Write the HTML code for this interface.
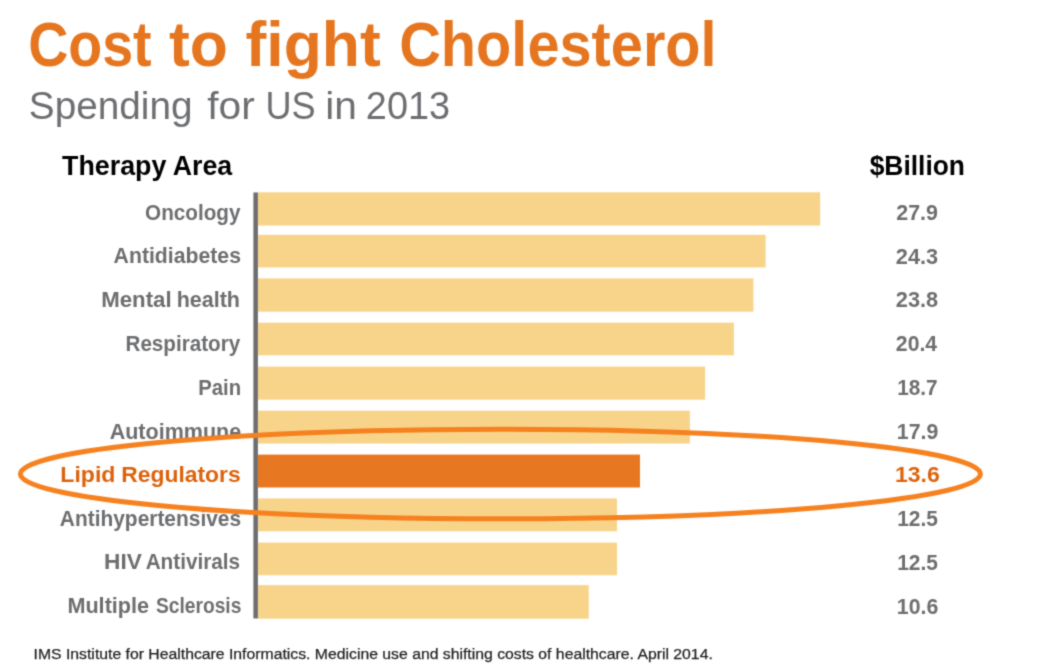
<!DOCTYPE html>
<html>
<head>
<meta charset="utf-8">
<style>
html,body{margin:0;padding:0;background:#fff;width:1053px;height:672px;overflow:hidden;}
svg{display:block;}

text{font-family:"Liberation Sans",sans-serif;}
</style>
</head>
<body>
<svg width="1053" height="672" viewBox="0 0 1053 672">
<defs><filter id="soft" x="0" y="0" width="1053" height="672" filterUnits="userSpaceOnUse" color-interpolation-filters="sRGB"><feConvolveMatrix order="3" kernelMatrix="0.02768 0.11101 0.02768 0.11101 0.44521 0.11101 0.02768 0.11101 0.02768" edgeMode="duplicate"/></filter></defs>
<g filter="url(#soft)">
<rect x="0" y="0" width="1053" height="672" fill="#fff"/>

<g fill="#F8D48B">
<rect x="257.9" y="192.3" width="562.30" height="33.25"/>
<rect x="257.9" y="234.8" width="507.70" height="32.65"/>
<rect x="257.9" y="278.4" width="495.50" height="33.30"/>
<rect x="257.9" y="322.7" width="476.00" height="32.60"/>
<rect x="257.9" y="366.6" width="447.20" height="33.10"/>
<rect x="257.9" y="410.7" width="432.00" height="32.80"/>
<rect x="257.9" y="498.4" width="359.10" height="32.90"/>
<rect x="257.9" y="542.6" width="359.10" height="32.60"/>
<rect x="257.9" y="585.1" width="330.80" height="33.60"/>
</g>
<rect x="257.9" y="454.6" width="382.10" height="32.90" fill="#E77821"/>
<rect x="253.4" y="192.45" width="4.5" height="426" fill="#6E6E72"/>
<text id="title_0" x="28.17" y="66" font-size="63" fill="#E5761F" font-weight="bold" textLength="123.43" lengthAdjust="spacingAndGlyphs">Cost</text>
<text id="title_1" x="169.06" y="66" font-size="63" fill="#E5761F" font-weight="bold" textLength="58.94" lengthAdjust="spacingAndGlyphs">to</text>
<text id="title_2" x="245.50" y="66" font-size="63" fill="#E5761F" font-weight="bold" textLength="135.24" lengthAdjust="spacingAndGlyphs">fight</text>
<text id="title_3" x="399.21" y="66" font-size="63" fill="#E5761F" font-weight="bold" textLength="317.41" lengthAdjust="spacingAndGlyphs">Cholesterol</text>
<text id="sub_0" x="28.81" y="118.6" font-size="39" fill="#6D6E71" textLength="163.69" lengthAdjust="spacingAndGlyphs">Spending</text>
<text id="sub_1" x="207.31" y="118.6" font-size="39" fill="#6D6E71" textLength="47.50" lengthAdjust="spacingAndGlyphs">for</text>
<text id="sub_2" x="265.51" y="118.6" font-size="39" fill="#6D6E71" textLength="50.15" lengthAdjust="spacingAndGlyphs">US</text>
<text id="sub_3" x="325.15" y="118.6" font-size="39" fill="#6D6E71" textLength="31.68" lengthAdjust="spacingAndGlyphs">in</text>
<text id="sub_4" x="365.86" y="118.6" font-size="39" fill="#6D6E71" textLength="84.26" lengthAdjust="spacingAndGlyphs">2013</text>
<text id="h1_0" x="62.00" y="175.4" font-size="27" fill="#000000" font-weight="bold" textLength="104.44" lengthAdjust="spacingAndGlyphs">Therapy</text>
<text id="h1_1" x="172.81" y="175.4" font-size="27" fill="#000000" font-weight="bold" textLength="59.44" lengthAdjust="spacingAndGlyphs">Area</text>
<text id="h2" x="869.63" y="175.1" font-size="27" fill="#000000" font-weight="bold" textLength="95.36" lengthAdjust="spacingAndGlyphs">$Billion</text>
<text id="L0" x="145.06" y="219.5" font-size="22" fill="#6D6E70" font-weight="bold" textLength="95.37" lengthAdjust="spacingAndGlyphs">Oncology</text>
<text id="L1" x="113.62" y="263.4" font-size="22" fill="#6D6E70" font-weight="bold" textLength="127.36" lengthAdjust="spacingAndGlyphs">Antidiabetes</text>
<text id="L2_0" x="101.19" y="307.0" font-size="22" fill="#6D6E70" font-weight="bold" textLength="70.42" lengthAdjust="spacingAndGlyphs">Mental</text>
<text id="L2_1" x="176.64" y="307.0" font-size="22" fill="#6D6E70" font-weight="bold" textLength="63.33" lengthAdjust="spacingAndGlyphs">health</text>
<text id="L3" x="125.51" y="351.0" font-size="22" fill="#6D6E70" font-weight="bold" textLength="114.64" lengthAdjust="spacingAndGlyphs">Respiratory</text>
<text id="L4" x="198.27" y="394.9" font-size="22" fill="#6D6E70" font-weight="bold" textLength="42.88" lengthAdjust="spacingAndGlyphs">Pain</text>
<text id="L5" x="109.63" y="438.5" font-size="22" fill="#6D6E70" font-weight="bold" textLength="131.60" lengthAdjust="spacingAndGlyphs">Autoimmune</text>
<text id="L6_0" x="60.31" y="481.6" font-size="22" fill="#DD620B" font-weight="bold" textLength="55.12" lengthAdjust="spacingAndGlyphs">Lipid</text>
<text id="L6_1" x="121.35" y="481.6" font-size="22" fill="#DD620B" font-weight="bold" textLength="119.30" lengthAdjust="spacingAndGlyphs">Regulators</text>
<text id="L7" x="59.83" y="525.6" font-size="22" fill="#6D6E70" font-weight="bold" textLength="181.25" lengthAdjust="spacingAndGlyphs">Antihypertensives</text>
<text id="L8_0" x="104.03" y="569.3" font-size="22" fill="#6D6E70" font-weight="bold" textLength="37.81" lengthAdjust="spacingAndGlyphs">HIV</text>
<text id="L8_1" x="145.64" y="569.3" font-size="22" fill="#6D6E70" font-weight="bold" textLength="94.49" lengthAdjust="spacingAndGlyphs">Antivirals</text>
<text id="L9_0" x="67.39" y="613.2" font-size="22" fill="#6D6E70" font-weight="bold" textLength="81.74" lengthAdjust="spacingAndGlyphs">Multiple</text>
<text id="L9_1" x="156.01" y="613.2" font-size="22" fill="#6D6E70" font-weight="bold" textLength="85.34" lengthAdjust="spacingAndGlyphs">Sclerosis</text>
<text id="V0" x="896.22" y="219.7" font-size="22" fill="#6D6E70" font-weight="bold" textLength="41.68" lengthAdjust="spacingAndGlyphs">27.9</text>
<text id="V1" x="895.81" y="263.5" font-size="22" fill="#6D6E70" font-weight="bold" textLength="42.31" lengthAdjust="spacingAndGlyphs">24.3</text>
<text id="V2" x="895.81" y="307.3" font-size="22" fill="#6D6E70" font-weight="bold" textLength="42.31" lengthAdjust="spacingAndGlyphs">23.8</text>
<text id="V3" x="895.84" y="350.8" font-size="22" fill="#6D6E70" font-weight="bold" textLength="41.30" lengthAdjust="spacingAndGlyphs">20.4</text>
<text id="V4" x="897.25" y="394.9" font-size="22" fill="#6D6E70" font-weight="bold" textLength="40.43" lengthAdjust="spacingAndGlyphs">18.7</text>
<text id="V5" x="896.85" y="438.7" font-size="22" fill="#6D6E70" font-weight="bold" textLength="41.44" lengthAdjust="spacingAndGlyphs">17.9</text>
<text id="V6" x="894.95" y="482.0" font-size="22" fill="#DD620B" font-weight="bold" textLength="44.81" lengthAdjust="spacingAndGlyphs">13.6</text>
<text id="V7" x="897.24" y="526.0" font-size="22" fill="#6D6E70" font-weight="bold" textLength="40.74" lengthAdjust="spacingAndGlyphs">12.5</text>
<text id="V8" x="897.24" y="569.6" font-size="22" fill="#6D6E70" font-weight="bold" textLength="40.74" lengthAdjust="spacingAndGlyphs">12.5</text>
<text id="V9" x="896.85" y="613.5" font-size="22" fill="#6D6E70" font-weight="bold" textLength="41.44" lengthAdjust="spacingAndGlyphs">10.6</text>
<text id="foot" x="33.56" y="658.9" font-size="15.3" fill="#231F20" stroke="#231F20" stroke-width="0.25" textLength="679.24" lengthAdjust="spacingAndGlyphs">IMS Institute for Healthcare Informatics. Medicine use and shifting costs of healthcare. April 2014.</text>
<ellipse cx="500.4" cy="474" rx="480" ry="44.8" fill="none" stroke="#F6811F" stroke-width="5"/>
</g>
</svg>
</body>
</html>
